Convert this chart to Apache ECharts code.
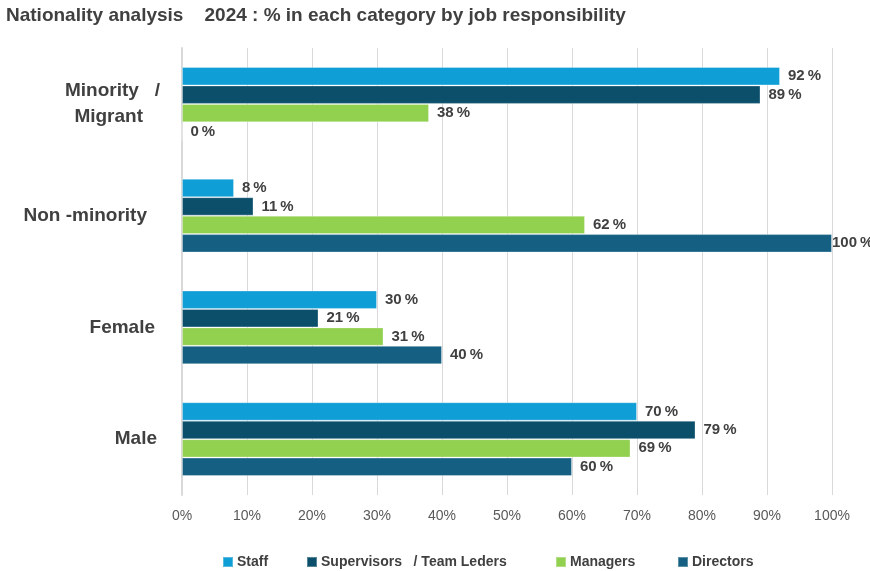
<!DOCTYPE html>
<html>
<head>
<meta charset="utf-8">
<script src="https://cdn.jsdelivr.net/npm/echarts@6/dist/echarts.min.js"></script>
<style>
  html, body { margin: 0; padding: 0; background: #ffffff; }
  #chart { width: 870px; height: 571px; }
</style>
</head>
<body>
<div id="chart"></div>
<script>
// Categories, top to bottom
const categories = ['Minority / Migrant', 'Non-minority', 'Female', 'Male'];
const seriesNames = ['Staff', 'Supervisors   / Team Leders', 'Managers', 'Directors'];
// Share (%) per category for each job responsibility
const staff       = [92, 8, 30, 70];
const supervisors = [89, 11, 21, 79];
const managers    = [38, 62, 31, 69];
const directors   = [0, 100, 40, 60];
const xTicks = [0, 10, 20, 30, 40, 50, 60, 70, 80, 90, 100];

const colors = ['#0f9ed5', '#0b4f6b', '#92d050', '#156082'];
const textColor = '#404040';
const fontFamily = '"Liberation Sans", Arial, sans-serif';

const chart = echarts.init(document.getElementById('chart'), null, { renderer: 'canvas' });

function makeData(values) {
  return values.map(v => {
    const item = { value: v };
    if (v >= 100) item.label = { distance: 0 };
    return item;
  });
}

const allSeries = [staff, supervisors, managers, directors].map((vals, i) => ({
  name: seriesNames[i],
  type: 'bar',
  data: makeData(vals),
  barGap: '0%',
  barCategoryGap: '34%',
  itemStyle: { color: colors[i], borderColor: 'rgba(255,255,255,0.3)', borderWidth: 1 },
  label: {
    show: true,
    position: 'right',
    distance: 8,
    formatter: p => p.value + '\u2009%',
    color: textColor,
    fontWeight: 'bold',
    fontSize: 15,
    fontFamily: fontFamily
  },
  emphasis: { disabled: true }
}));

const legendLefts = [217, 301, 550, 672];
const legends = seriesNames.map((n, i) => ({
  data: [n],
  left: legendLefts[i],
  top: 550,
  itemWidth: 10,
  itemHeight: 10,
  itemGap: 0,
  icon: 'rect',
  textStyle: { color: textColor, fontWeight: 'bold', fontSize: 14, fontFamily: fontFamily, padding: [0, 0, 0, -1] },
  selectedMode: false
}));

// Per-category label styling (right padding keeps the original indent)
const yFont = { fontSize: 19, fontWeight: 'bold', color: textColor, fontFamily: fontFamily };
const yLabelRich = {
  a: Object.assign({ lineHeight: 26 }, yFont),
  m: Object.assign({ lineHeight: 26, padding: [0, 17, 0, 0] }, yFont),
  n: Object.assign({ padding: [0, 13, 0, 0] }, yFont),
  f: Object.assign({ padding: [0, 5, 0, 0] }, yFont),
  g: Object.assign({ padding: [0, 3, 0, 0] }, yFont)
};

chart.setOption({
  animation: false,
  backgroundColor: '#ffffff',
  title: {
    text: 'Nationality analysis    2024 : % in each category by job responsibility',
    left: 1,
    top: 1,
    textStyle: { color: textColor, fontWeight: 'bold', fontSize: 19, fontFamily: fontFamily }
  },
  legend: legends,
  grid: { left: 182, right: 38, top: 48, bottom: 76, containLabel: false },
  xAxis: {
    type: 'value',
    min: xTicks[0],
    max: xTicks[xTicks.length - 1],
    interval: 10,
    axisLine: { show: false },
    axisTick: { show: false },
    splitLine: { show: true, lineStyle: { color: '#d9d9d9', width: 1 } },
    axisLabel: {
      formatter: v => v + '%',
      color: '#595959',
      fontSize: 14,
      fontFamily: fontFamily,
      margin: 14
    }
  },
  yAxis: {
    type: 'category',
    inverse: true,
    data: categories,
    axisLine: { show: true, lineStyle: { color: '#d9d9d9', width: 2 } },
    axisTick: { show: false },
    axisLabel: {
      margin: 22,
      formatter: (v, i) => {
        if (i === 0) return '{a|Minority   /}\n{m|Migrant}';
        if (i === 1) return '{n|Non -minority}';
        if (i === 2) return '{f|Female}';
        return '{g|Male}';
      },
      rich: yLabelRich
    }
  },
  series: allSeries
});
</script>
</body>
</html>
